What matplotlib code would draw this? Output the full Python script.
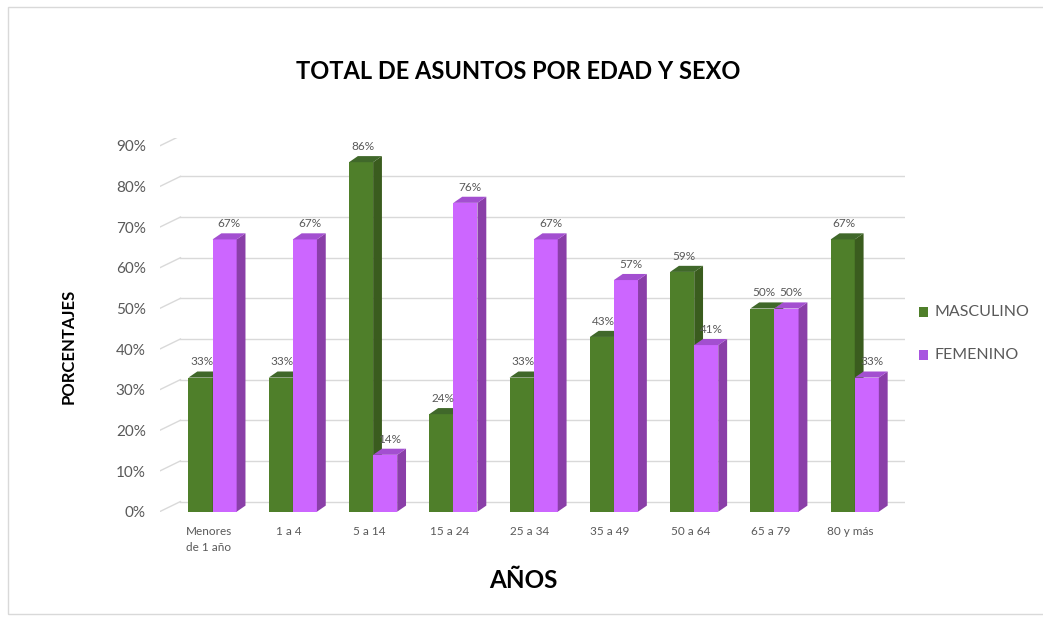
import numpy as np
import matplotlib.pyplot as plt
from matplotlib.patches import Polygon, Rectangle
from matplotlib.transforms import ScaledTranslation

plt.rcParams['font.family'] = ['Lato', 'DejaVu Sans']

categories = ["Menores\nde 1 año", "1 a 4", "5 a 14", "15 a 24", "25 a 34",
              "35 a 49", "50 a 64", "65 a 79", "80 y más"]
masculino = [0.33, 0.33, 0.86, 0.24, 0.33, 0.43, 0.59, 0.50, 0.67]
femenino = [0.67, 0.67, 0.14, 0.76, 0.67, 0.57, 0.41, 0.50, 0.33]
yticks = [0, 0.1, 0.2, 0.3, 0.4, 0.5, 0.6, 0.7, 0.8, 0.9]

# fake 3D look (Excel style): depth offsets in data units
DX, DY = 0.11, 0.015
W = 0.3
green = ("#4F7F2A", "#3A5C1E", "#40682A")
purple = ("#CC66FF", "#8A3FA8", "#A34FD0")

fig = plt.figure(figsize=(10.43, 6.18), dpi=100)
ax = fig.add_axes([0.153, 0.172, 0.715, 0.605])
ax.set_xlim(-0.66, 8.63)
ax.set_ylim(0, 0.92)

# back wall gridlines with slanted floor part
for t in yticks:
    ax.plot([-0.66, -0.4], [t, t + 0.025], color="#D9D9D9", lw=1, zorder=0)
    ax.plot([-0.4, 8.63], [t + 0.025, t + 0.025], color="#D9D9D9", lw=1, zorder=0)


def bar3d(x0, h, cols):
    front, side, top = cols
    ax.add_patch(Rectangle((x0, 0), W, h, facecolor=front, edgecolor="none", zorder=2))
    ax.add_patch(Polygon([(x0 + W, 0), (x0 + W + DX, DY), (x0 + W + DX, h + DY), (x0 + W, h)],
                         facecolor=side, edgecolor="none", zorder=2))
    ax.add_patch(Polygon([(x0, h), (x0 + DX, h + DY), (x0 + W + DX, h + DY), (x0 + W, h)],
                         facecolor=top, edgecolor="none", zorder=2))


x = np.arange(len(categories))
for i in x:
    bar3d(i - W, masculino[i], green)
    bar3d(i, femenino[i], purple)
    ax.text(i - W / 2 + 0.02, masculino[i] + 0.025, f"{masculino[i]:.0%}", ha="center",
            va="bottom", fontsize=8.5, color="#595959", zorder=3)
    ax.text(i + W / 2 + 0.06, femenino[i] + 0.025, f"{femenino[i]:.0%}", ha="center",
            va="bottom", fontsize=8.5, color="#595959", zorder=3)

ax.set_yticks(yticks)
ax.set_yticklabels([f"{t:.0%}" for t in yticks], fontsize=11, color="#595959")
shift = ScaledTranslation(0, -0.08, fig.dpi_scale_trans)
for lab in ax.get_yticklabels():
    lab.set_transform(lab.get_transform() + shift)
ax.set_xticks(x - 0.05)
ax.set_xticklabels(categories, fontsize=8.5, color="#595959", ha="center", va="top",
                   linespacing=1.6)
ax.tick_params(length=0, pad=10)
for s in ax.spines.values():
    s.set_visible(False)

fig.text(0.497, 0.885, "TOTAL DE ASUNTOS POR EDAD Y SEXO", ha="center", va="center",
         fontsize=17, fontweight="bold", color="black")
fig.text(0.066, 0.44, "PORCENTAJES", rotation=90, ha="center", va="center",
         fontsize=12, fontweight="bold")
fig.text(0.502, 0.06, "AÑOS", ha="center", va="center", fontsize=17.5, fontweight="bold")

# legend
fig.patches.append(Rectangle((0.881, 0.487), 0.009, 0.016, transform=fig.transFigure,
                             facecolor="#4F7F2A", edgecolor="none"))
fig.patches.append(Rectangle((0.881, 0.417), 0.009, 0.016, transform=fig.transFigure,
                             facecolor="#A855E0", edgecolor="none"))
fig.text(0.896, 0.495, "MASCULINO", va="center", fontsize=11.5, color="#595959")
fig.text(0.896, 0.425, "FEMENINO", va="center", fontsize=11.5, color="#595959")

# chart area border
fig.patches.append(Rectangle((0.008, 0.006), 1.0, 0.982, transform=fig.transFigure,
                             facecolor="none", edgecolor="#D9D9D9", lw=1))

fig.savefig("out.png", dpi=100)
